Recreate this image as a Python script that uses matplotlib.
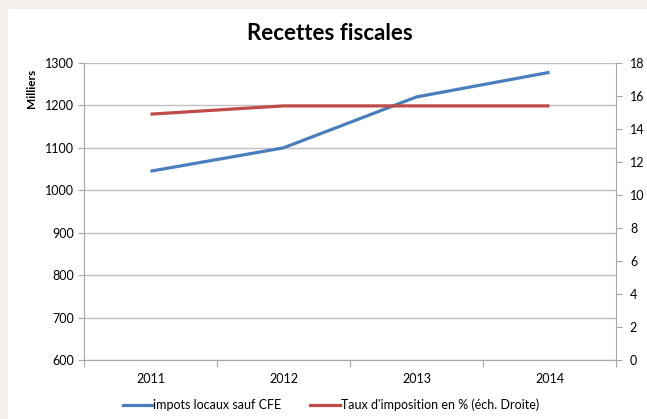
import matplotlib
matplotlib.use("Agg")
import matplotlib.pyplot as plt
from matplotlib.patches import Rectangle
from matplotlib.lines import Line2D

years = ["2011", "2012", "2013", "2014"]
impots = [1045, 1100, 1220, 1278]
taux = [14.9, 15.4, 15.4, 15.4]

FONT = "Lato"
W, H = 647, 419
fig = plt.figure(figsize=(W/100, H/100), dpi=100, facecolor="#f3efeb")
fig.patches.append(Rectangle((8/W, 0), 1 - 8/W, 1 - 9/H, transform=fig.transFigure,
                             facecolor="white", edgecolor="none", zorder=-10))

L, R, T, B = 84, 616, 63, 360
ax = fig.add_axes([L/W, 1 - B/H, (R-L)/W, (B-T)/H])
ax.set_facecolor("none")
x = list(range(len(years)))
ax.set_xlim(-0.5, len(years) - 0.5)
ax.set_ylim(600, 1300)
ax.set_yticks(range(600, 1301, 100))
ax.grid(axis="y", color="#c0c0c0", lw=1)
ax.set_axisbelow(True)
for s in ["top", "right"]:
    ax.spines[s].set_visible(False)
for s in ["left", "bottom"]:
    ax.spines[s].set_color("#a6a6a6")
ax.set_xticks([i - 0.5 for i in range(len(years) + 1)], minor=False)
ax.set_xticklabels([])
ax.set_xticks(x, minor=True)
ax.set_xticklabels(years, minor=True)
ax.tick_params(axis="x", which="major", length=5, color="#a6a6a6")
ax.tick_params(axis="x", which="minor", length=0, pad=9, labelsize=9)
ax.tick_params(axis="y", length=4, color="#a6a6a6", labelsize=9, pad=3)
for lab in ax.get_xticklabels(minor=True) + ax.get_yticklabels():
    lab.set_fontfamily(FONT)

ax.plot(x, impots, color="#4a7ebb", lw=2.3, solid_capstyle="butt", zorder=3)

ax2 = ax.twinx()
ax2.set_ylim(0, 18)
ax2.set_yticks(range(0, 19, 2))
for s in ["top", "left", "bottom"]:
    ax2.spines[s].set_visible(False)
ax2.spines["right"].set_color("#a6a6a6")
ax2.tick_params(axis="y", length=4, color="#a6a6a6", labelsize=9, pad=6)
for lab in ax2.get_yticklabels():
    lab.set_fontfamily(FONT)
ax2.plot(x, taux, color="#be4b48", lw=2.3, solid_capstyle="butt", zorder=3)

fig.text(330/W, 1 - 33/H, "Recettes fiscales", ha="center", va="center",
         fontsize=16, fontweight="bold", family=FONT)
fig.text(32/W, 1 - 88/H, "Milliers", ha="center", va="center", rotation=90,
         fontsize=8.5, fontweight="bold", family=FONT)

handles = [Line2D([], [], color="#4a7ebb", lw=2.3),
           Line2D([], [], color="#be4b48", lw=2.3)]
fig.legend(handles, ["impots locaux sauf CFE", "Taux d'imposition en % (éch. Droite)"],
           loc="center", bbox_to_anchor=(331/W, 1 - 405/H), ncol=2, frameon=False,
           prop={"family": FONT, "size": 9}, handlelength=2.4,
           handletextpad=0.05, columnspacing=2.3)

fig.savefig("out.png", dpi=100, facecolor=fig.get_facecolor())
